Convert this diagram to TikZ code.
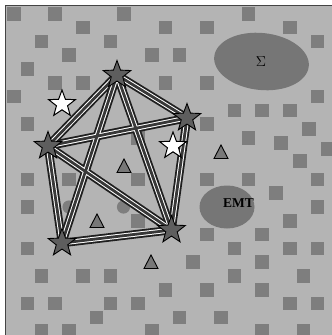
\documentclass[tikz,border=0pt]{standalone}
\usepackage{fontspec}
\setmainfont{Liberation Serif}
\usetikzlibrary{shapes.geometric}
\definecolor{bgc}{HTML}{B4B4B4}
\definecolor{sqc}{HTML}{7E7E7E}
\definecolor{elc}{HTML}{767676}
\definecolor{stc}{HTML}{5E5E5E}
\definecolor{trc}{HTML}{787878}
\definecolor{frc}{HTML}{444444}
\tikzset{
  x=1pt, y=-1pt,
  sq/.style={fill=sqc},
  dstar/.style={star, star points=5, star point ratio=2.4, minimum size=29pt, inner sep=0pt, fill=stc, draw=black, line width=0.9pt},
  wstar/.style={star, star points=5, star point ratio=2.4, minimum size=28pt, inner sep=0pt, fill=white, draw=black, line width=1pt},
  blob/.style={ellipse, fill=elc, inner sep=0pt},
  tri/.style={fill=trc, draw=black, line width=0.9pt, line join=miter},
  eouter/.style={line width=8.5pt, draw=black!88},
  emid/.style={line width=4.8pt, draw=white},
  einner/.style={line width=2.8pt, draw=black!78},
}
\begin{document}
\begin{tikzpicture}
\useasboundingbox (0,0) rectangle (332,335);
\fill[white] (0,0) rectangle (332,335);
\fill[bgc] (6,6) rectangle (332,335);
\draw[frc, line width=1.6pt] (5.6,335) -- (5.6,5.6) -- (332,5.6);
% grid squares
\foreach \c/\r in {0/0,3/0,8/0,17/0,
  5/1,11/1,14/1,20/1,
  2/2,7/2,22/2,
  4/3,10/3,12/3,
  1/4,
  3/5,5/5,11/5,14/5,
  0/6,22/6,
  16/7,18/7,20/7,
  1/8,14/8,
  9/9,17/9,
  1/12,4/12,9/12,14/12,17/12,22/12,
  19/13,
  1/14,22/14,
  9/15,20/15,
  14/16,18/16,
  1/17,16/17,20/17,22/17,
  13/18,18/18,
  2/19,5/19,7/19,16/19,21/19,
  11/20,14/20,18/20,
  1/21,3/21,7/21,9/21,20/21,22/21,
  6/22,12/22,15/22,
  2/23,4/23,10/23,18/23,21/23}
  \fill[sq] ({7+13.8*\c},{7+13.8*\r}) rectangle ++(13.5,13.5);
% off-grid squares
\foreach \x/\y in {302/122,274/136,321/142,293/154}
  \fill[sq] (\x,\y) rectangle ++(13.5,13.5);
% round blobs
\fill[sq] (69,207) circle (6.6);
\fill[sq] (123.5,207) circle (6.6);
% ellipses
\node[blob, minimum width=95pt, minimum height=57pt, rotate=-6] (sig) at (261.5,61.5) {};
\node[font=\fontsize{14.5}{14.5}\selectfont] (sigt) at (261,62) {$\Sigma$};
\node[blob, minimum width=55pt, minimum height=43pt] (emt) at (227,207) {};
\node[font=\fontsize{13.5}{13.5}\selectfont\bfseries] (emtt) at (238.5,203.5) {EMT};
% star positions
\coordinate (p1) at (117,75);
\coordinate (p2) at (48,146);
\coordinate (p3) at (187,118);
\coordinate (p4) at (62,243);
\coordinate (p5) at (171.5,230);
% edges
\foreach \a/\b in {p1/p2,p1/p3,p1/p4,p1/p5,p2/p3,p2/p4,p2/p5,p3/p5,p4/p5}
  \draw[eouter] (\a) -- (\b);
\foreach \a/\b in {p1/p2,p1/p3,p1/p4,p1/p5,p2/p3,p2/p4,p2/p5,p3/p5,p4/p5}
  \draw[emid] (\a) -- (\b);
\foreach \a/\b in {p1/p2,p1/p3,p1/p4,p1/p5,p2/p3,p2/p4,p2/p5,p3/p5,p4/p5}
  \draw[einner] (\a) -- (\b);
% triangles
\foreach \x/\y in {124/166,221/152,97/221,151/262}
  \draw[tri] (\x-7,\y+6.5) -- (\x,\y-7) -- (\x+7,\y+6.5) -- cycle;
% stars
\node[dstar] (s1) at (p1) {};
\node[dstar] (s2) at (p2) {};
\node[dstar] (s3) at (p3) {};
\node[dstar] (s4) at (p4) {};
\node[dstar] (s5) at (p5) {};
\node[wstar] (w1) at (62,104) {};
\node[wstar] (w2) at (173,146) {};
\end{tikzpicture}
\end{document}
